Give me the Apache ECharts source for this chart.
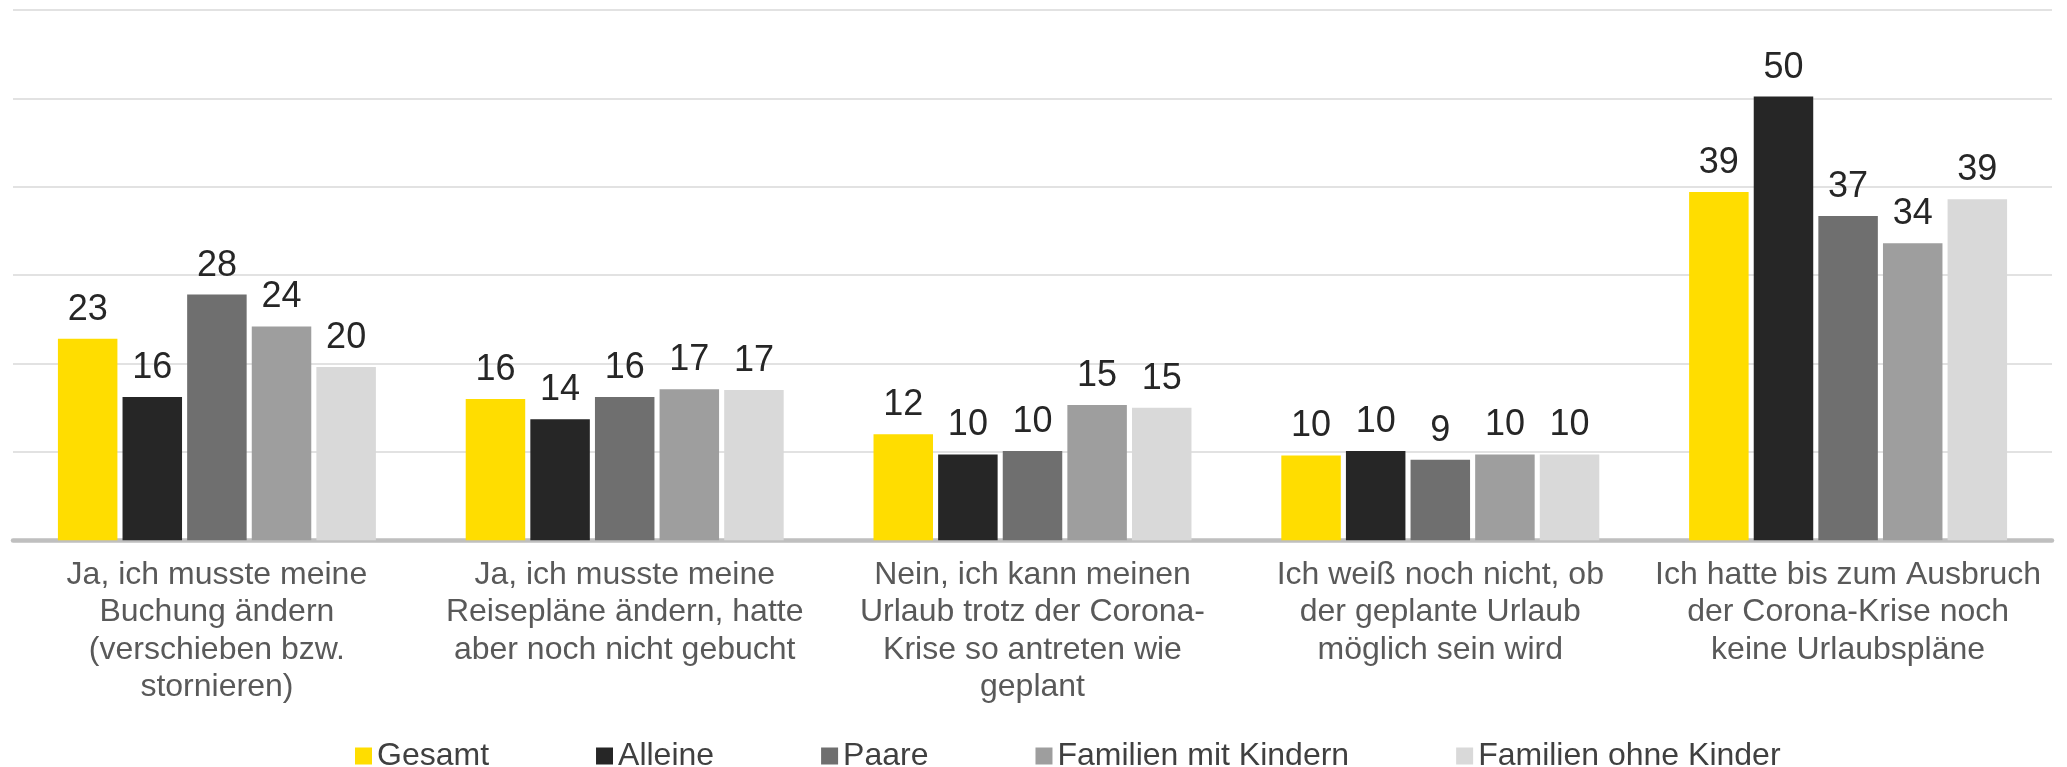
<!DOCTYPE html>
<html>
<head>
<meta charset="utf-8">
<title>Urlaubspläne Corona-Krise</title>
<script src="https://cdn.jsdelivr.net/npm/echarts@6/dist/echarts.min.js"></script>
<style>
  html, body { margin: 0; padding: 0; background: #ffffff; }
  #chart { width: 2067px; height: 767px; }
</style>
</head>
<body>
<div id="chart"></div>
<script>
  // Antwortkategorien (Zeilenumbrüche wie im Original)
  const categories = [
    'Ja, ich musste meine\nBuchung ändern\n(verschieben bzw.\nstornieren)',
    'Ja, ich musste meine\nReisepläne ändern, hatte\naber noch nicht gebucht',
    'Nein, ich kann meinen\nUrlaub trotz der Corona-\nKrise so antreten wie\ngeplant',
    'Ich weiß noch nicht, ob\nder geplante Urlaub\nmöglich sein wird',
    'Ich hatte bis zum Ausbruch\nder Corona-Krise noch\nkeine Urlaubspläne'
  ];

  const seriesNames = ['Gesamt', 'Alleine', 'Paare', 'Familien mit Kindern', 'Familien ohne Kinder'];
  const seriesColors = ['#FFDD00', '#262626', '#6F6F6F', '#9E9E9E', '#D9D9D9'];

  // Werte in Prozent (Balkenhöhen aus dem Bild geschätzt, Beschriftung gerundet)
  const gesamt = [22.8, 16.0, 12.0, 9.6, 39.4];
  const alleine = [16.2, 13.7, 9.7, 10.1, 50.2];
  const paare = [27.8, 16.2, 10.1, 9.1, 36.7];
  const familienMitKindern = [24.2, 17.1, 15.3, 9.7, 33.6];
  const familienOhneKinder = [19.6, 17.0, 15.0, 9.7, 38.6];

  const yTicks = [0, 10, 20, 30, 40, 50, 60];

  const allValues = [gesamt, alleine, paare, familienMitKindern, familienOhneKinder];
  const fontFamily = "'Liberation Sans', Arial, sans-serif";

  const chart = echarts.init(document.getElementById('chart'));

  chart.setOption({
    animation: false,
    textStyle: { fontFamily: fontFamily },
    grid: {
      left: 13,
      right: 15,
      top: 10,
      bottom: 226.7,
      containLabel: false
    },
    legend: {
      data: seriesNames,
      left: 350,
      top: 735,
      icon: 'rect',
      itemWidth: 17,
      itemHeight: 17,
      itemGap: 107,
      textStyle: {
        fontSize: 32,
        lineHeight: 32,
        color: '#404040',
        fontFamily: fontFamily
      }
    },
    xAxis: {
      type: 'category',
      data: categories,
      axisLine: { show: true, lineStyle: { color: '#BFBFBF', width: 4.5 } },
      axisTick: { show: false },
      axisLabel: {
        interval: 0,
        margin: 16,
        fontSize: 32,
        lineHeight: 37.5,
        color: '#595959',
        align: 'center',
        fontFamily: fontFamily
      }
    },
    yAxis: {
      type: 'value',
      min: yTicks[0],
      max: yTicks[yTicks.length - 1],
      interval: 10,
      axisLine: { show: false },
      axisTick: { show: false },
      axisLabel: { show: false },
      splitLine: { lineStyle: { color: '#D9D9D9', width: 1.5 } }
    },
    series: seriesNames.map((name, i) => ({
      name: name,
      type: 'bar',
      data: allValues[i],
      barWidth: 59.5,
      barGap: '8.6%',
      itemStyle: { color: seriesColors[i] },
      label: {
        show: true,
        position: 'top',
        distance: 11,
        fontSize: 36,
        color: '#262626',
        fontFamily: fontFamily,
        formatter: p => Math.round(p.value)
      }
    }))
  });
</script>
</body>
</html>
